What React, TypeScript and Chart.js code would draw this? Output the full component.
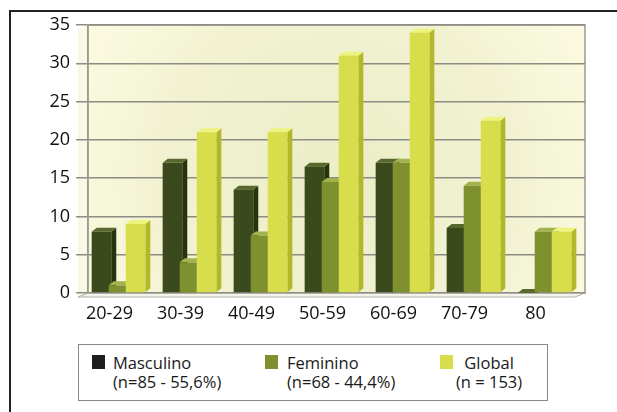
import React, { useEffect, useRef } from "react";
import { Chart, registerables } from "chart.js";

Chart.register(...registerables);

const categories = ["20-29", "30-39", "40-49", "50-59", "60-69", "70-79", "80"];
const masculino = [8, 17, 13.5, 16.5, 17, 8.5, 0];
const feminino = [1, 4, 7.5, 14.5, 17, 14, 8];
const globalVals = [9, 21, 21, 31, 34, 22.5, 8];
const yTicks = [0, 5, 10, 15, 20, 25, 30, 35];

const faceColors = [
  { front: "#3b4a1d", side: "#27330f", top: "#57692c" },
  { front: "#7f912f", side: "#5f6e1d", top: "#a2b24d" },
  { front: "#d8de4b", side: "#b2b82a", top: "#eef27e" },
];

const DX = 5;
const DY = 4;
const SHIFT = -5;

const bgPlugin = {
  id: "bgPlugin",
  beforeDraw(chart: any) {
    const { ctx, chartArea: a } = chart;
    ctx.save();
    const g = ctx.createRadialGradient(
      (a.left + a.right) / 2, (a.top + a.bottom) / 2 + 20, 20,
      (a.left + a.right) / 2, (a.top + a.bottom) / 2 + 20, 280
    );
    g.addColorStop(0, "#eceec8");
    g.addColorStop(0.6, "#f2f2d2");
    g.addColorStop(1, "#fbfae0");
    ctx.fillStyle = g;
    ctx.fillRect(a.left, a.top, a.right - a.left, a.bottom - a.top);
    ctx.strokeStyle = "#9a9a90";
    ctx.lineWidth = 1.5;
    ctx.strokeRect(a.left, a.top, a.right - a.left, a.bottom - a.top);
    // left wall
    ctx.fillStyle = "#f8f8e6";
    ctx.beginPath();
    ctx.moveTo(a.left - 2 * DX, a.top + DY);
    ctx.lineTo(a.left, a.top);
    ctx.lineTo(a.left, a.bottom);
    ctx.lineTo(a.left - 2 * DX, a.bottom + DY);
    ctx.closePath();
    ctx.fill();
    // floor
    ctx.fillStyle = "#f4f4ea";
    ctx.beginPath();
    ctx.moveTo(a.left - 2 * DX, a.bottom + DY);
    ctx.lineTo(a.left, a.bottom);
    ctx.lineTo(a.right, a.bottom);
    ctx.lineTo(a.right - 2 * DX, a.bottom + DY);
    ctx.closePath();
    ctx.fill();
    ctx.strokeStyle = "#b0b0a8";
    ctx.lineWidth = 1;
    ctx.stroke();
    ctx.restore();
  },
};

const bar3dPlugin = {
  id: "bar3d",
  afterDatasetsDraw(chart: any) {
    const ctx = chart.ctx;
    const n = chart.data.labels.length;
    ctx.save();
    for (let i = 0; i < n; i++) {
      chart.data.datasets.forEach((_ds: any, di: number) => {
        const meta = chart.getDatasetMeta(di);
        const el = meta.data[i];
        if (!el) return;
        const p = el.getProps(["x", "y", "base", "width"], true);
        const x = p.x + SHIFT;
        const y = p.y;
        const base = p.base;
        const width = p.width;
        const l = x - width / 2;
        const r = x + width / 2;
        const c = faceColors[di];
        ctx.fillStyle = c.side;
        ctx.beginPath();
        ctx.moveTo(r, y);
        ctx.lineTo(r + DX, y - DY);
        ctx.lineTo(r + DX, base - DY);
        ctx.lineTo(r, base);
        ctx.closePath();
        ctx.fill();
        ctx.fillStyle = c.top;
        ctx.beginPath();
        ctx.moveTo(l, y);
        ctx.lineTo(l + DX, y - DY);
        ctx.lineTo(r + DX, y - DY);
        ctx.lineTo(r, y);
        ctx.closePath();
        ctx.fill();
        ctx.fillStyle = c.front;
        ctx.fillRect(l, y, width, base - y);
      });
    }
    ctx.restore();
  },
};

export default function App() {
  const ref = useRef<HTMLCanvasElement | null>(null);

  useEffect(() => {
    if (!ref.current) return;
    const chart = new Chart(ref.current, {
      type: "bar",
      data: {
        labels: categories,
        datasets: [
          { label: "Masculino", data: masculino, backgroundColor: "rgba(0,0,0,0)" },
          { label: "Feminino", data: feminino, backgroundColor: "rgba(0,0,0,0)" },
          { label: "Global", data: globalVals, backgroundColor: "rgba(0,0,0,0)" },
        ],
      },
      options: {
        animation: false,
        responsive: false,
        maintainAspectRatio: false,
        layout: { padding: { top: 25, right: 32, left: 0, bottom: 0 } },
        datasets: { bar: { categoryPercentage: 0.72, barPercentage: 1.15 } },
        plugins: {
          legend: { display: false },
          tooltip: { enabled: false },
        },
        scales: {
          x: {
            grid: { display: false },
            border: { display: false },
            ticks: {
              color: "#111",
              font: { family: "'Open Sans', sans-serif", size: 18 },
              padding: 2,
              maxRotation: 0,
              labelOffset: -14,
            },
            afterFit: (s: any) => {
              s.height = 37;
            },
          },
          y: {
            min: 0,
            max: 35,
            afterBuildTicks: (s: any) => {
              s.ticks = yTicks.map((v) => ({ value: v }));
            },
            grid: {
              color: "#8c8c84",
              lineWidth: 1.5,
              tickLength: 12,
              drawTicks: true,
            },
            border: { display: true, color: "#9a9a90", width: 1.5 },
            ticks: {
              color: "#111",
              font: { family: "'Open Sans', sans-serif", size: 18 },
              padding: 6,
            },
            afterFit: (s: any) => {
              s.width = 88;
            },
          },
        },
      },
      plugins: [bgPlugin, bar3dPlugin],
    });
    return () => chart.destroy();
  }, []);

  const legendText: React.CSSProperties = {
    position: "absolute",
    fontFamily: "'Open Sans', sans-serif",
    fontSize: 16.5,
    lineHeight: "19px",
    color: "#1a1a1a",
    whiteSpace: "nowrap",
  };
  const swatch = (c: string, left: number): React.CSSProperties => ({
    position: "absolute",
    left,
    top: 355,
    width: 13,
    height: 14,
    background: c,
  });

  return (
    <div
      style={{
        position: "fixed",
        left: 0,
        top: 0,
        width: 617,
        height: 412,
        background: "#fff",
        overflow: "hidden",
      }}
    >
      <div
        style={{
          position: "absolute",
          left: 9,
          top: 10,
          width: 700,
          height: 500,
          borderLeft: "2.5px solid #222",
          borderTop: "2.5px solid #222",
        }}
      />
      <canvas
        ref={ref}
        width={617}
        height={330}
        style={{ position: "absolute", left: 0, top: 0, width: 617, height: 330 }}
      />
      <div
        style={{
          position: "absolute",
          left: 78,
          top: 344,
          width: 468,
          height: 55,
          border: "1.5px solid #8a8a8a",
        }}
      />
      <div style={swatch("#1e1e1e", 92)} />
      <div style={{ ...legendText, left: 113, top: 353 }}>
        Masculino
        <br />
        (n=85 - 55,6%)
      </div>
      <div style={swatch("#7f912f", 265)} />
      <div style={{ ...legendText, left: 287, top: 353 }}>
        Feminino
        <br />
        (n=68 - 44,4%)
      </div>
      <div style={swatch("#d8de4b", 440)} />
      <div style={{ ...legendText, left: 456, top: 353, textAlign: "center" }}>
        Global
        <br />
        (n = 153)
      </div>
    </div>
  );
}
